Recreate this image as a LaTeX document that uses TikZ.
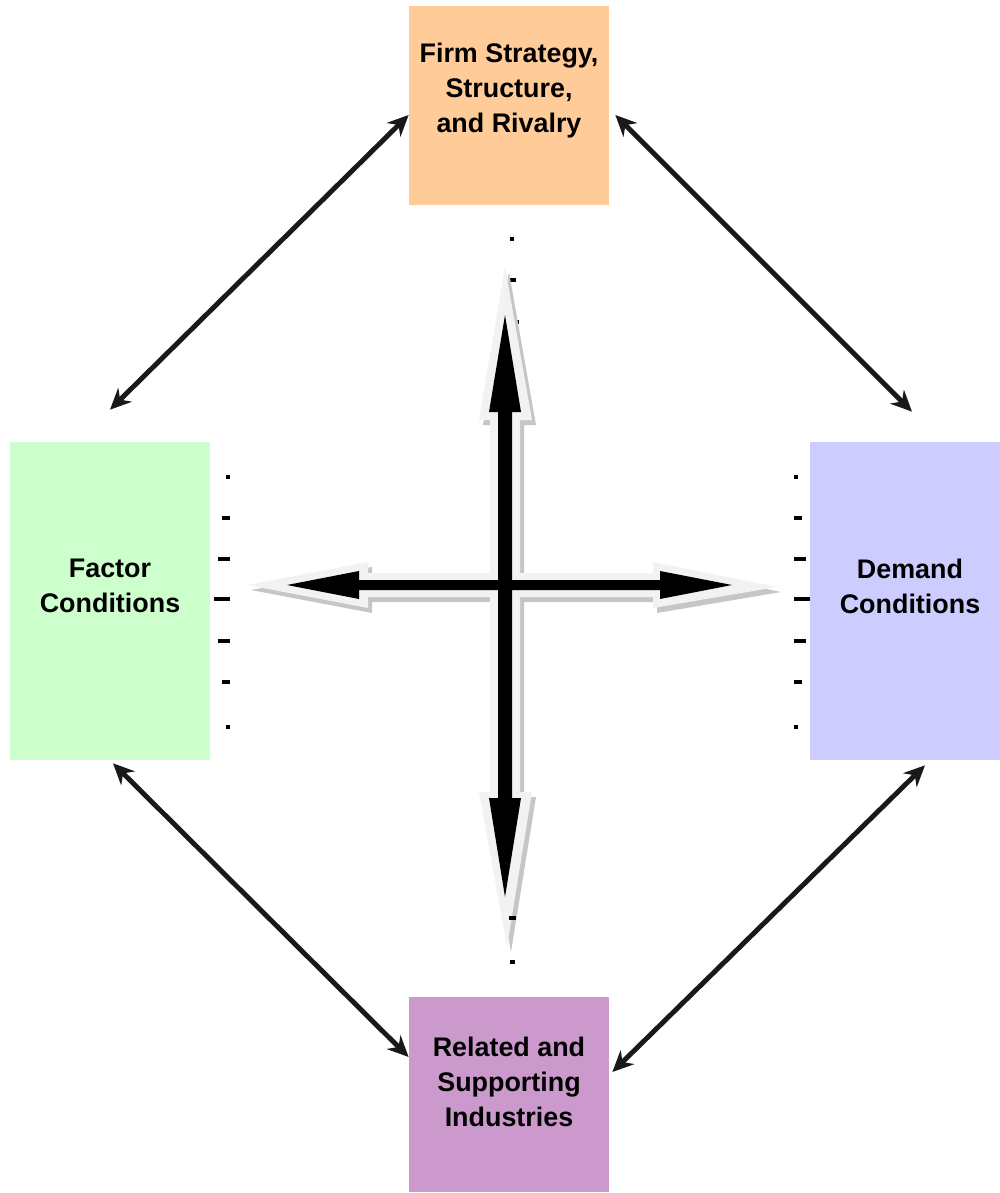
\documentclass[tikz,border=0pt]{standalone}
\usepackage{fontspec}
\setmainfont{Liberation Sans}
\usetikzlibrary{arrows.meta,positioning}
\definecolor{firmcol}{HTML}{FFCC99}
\definecolor{factorcol}{HTML}{CCFFCC}
\definecolor{demandcol}{HTML}{CCCCFF}
\definecolor{relatedcol}{HTML}{CC99CC}
\definecolor{rimcol}{HTML}{F2F2F2}

\begin{document}
\begin{tikzpicture}[x=0.02cm, y=-0.02cm,
  box/.style={rectangle, inner sep=0pt, minimum width=4cm},
  boxtext/.style={align=center, font=\bfseries\fontsize{15.3}{20}\selectfont},
  link/.style={{Stealth[length=12pt,width=11pt]}-{Stealth[length=12pt,width=11pt]},
    line width=2.8pt, black!90},
  tick/.style={fill=black}]
  \useasboundingbox (0,0) rectangle (1000,1193);

  % the four corners of the diamond
  \node[box, fill=firmcol, minimum height=3.98cm,
    label={[boxtext, yshift=0.3cm]center:{Firm Strategy,\\Structure,\\and Rivalry}}]
    (firm) at (509,105.5) {};
  \node[box, fill=factorcol, minimum height=6.36cm,
    label={[boxtext, yshift=0.3cm]center:{Factor\\Conditions}}]
    (factor) at (110,601) {};
  \node[box, fill=demandcol, minimum width=3.8cm, minimum height=6.36cm,
    label={[boxtext, xshift=0.1cm, yshift=0.3cm]center:{Demand\\Conditions}}]
    (demand) at (905,601) {};
  \node[box, fill=relatedcol, minimum height=3.9cm,
    label={[boxtext, yshift=0.25cm]center:{Related and\\Supporting\\Industries}}]
    (related) at (509,1094.5) {};

  % small marks beside the boxes
  \foreach \y/\w in {477/4, 518/8, 559/12, 599/16, 641/12, 682/8, 727/4} {
    \fill[tick] (230-\w,\y-1.8) rectangle (230,\y+1.8);
    \fill[tick] (794,\y-1.8) rectangle (794+\w,\y+1.8);
  }
  \foreach \y/\w in {239/4.5, 280/8, 322/14, 877/14}
    \fill[tick] (512-\w/2,\y-2) rectangle (512+\w/2,\y+2);

  % central cross: shadow, rim, then the black arrows
  \foreach \d/\c in {4/gray!45, 0/rimcol}
    \fill[\c, shift={(\d,\d*1.25)}]
      (505,267) -- (532,420) -- (520,420) -- (520,573) -- (653,573) -- (653,562)
      -- (777,587) -- (653,608) -- (653,597) -- (520,597) -- (520,792) -- (532,792)
      -- (507,947) -- (479,792) -- (490,792) -- (490,597) -- (368,597) -- (368,608)
      -- (247,585) -- (368,562) -- (368,573) -- (490,573) -- (490,420) -- (479,420)
      -- cycle;
  \fill[black]
    (505,315) -- (521,412) -- (512,412) -- (512,580) -- (660,580) -- (660,571)
    -- (732,585) -- (660,599) -- (660,590) -- (512,590) -- (512,798) -- (521,798)
    -- (505,897) -- (489,798) -- (498,798) -- (498,590) -- (359,590) -- (359,599)
    -- (287,585) -- (359,571) -- (359,580) -- (498,580) -- (498,412) -- (489,412)
    -- cycle;
  \foreach \y/\w in {918/7, 962/4.5}
    \fill[tick] (512.5-\w/2,\y-2) rectangle (512.5+\w/2,\y+2);

  % links round the diamond
  \draw[link] ([yshift=-0.19cm]firm.west) -- ([yshift=0.64cm]factor.north);
  \draw[link] ([xshift=0.12cm, yshift=-0.19cm]firm.east) -- ([xshift=0.14cm, yshift=0.6cm]demand.north);
  \draw[link] ([xshift=0.06cm, yshift=-0.06cm]factor.south) -- ([yshift=0.75cm]related.west);
  \draw[link] ([xshift=0.4cm, yshift=-0.1cm]demand.south) -- ([xshift=0.06cm, yshift=0.45cm]related.east);
\end{tikzpicture}
\end{document}
